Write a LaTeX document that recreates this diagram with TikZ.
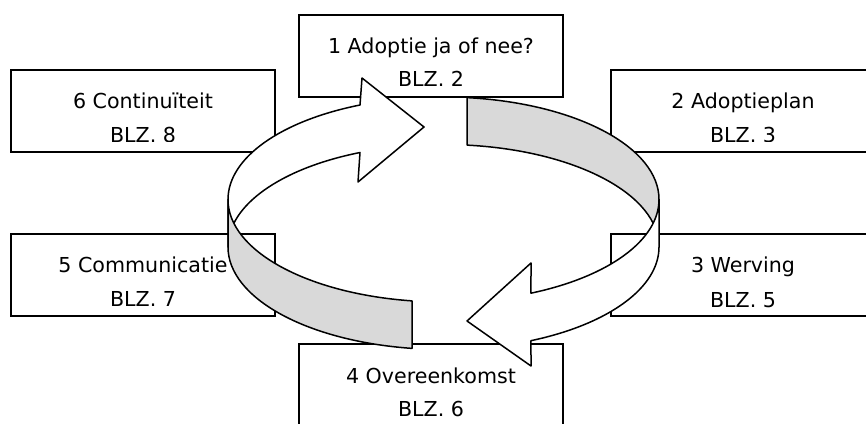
\documentclass[tikz,border=0pt]{standalone}
\usepackage{fontspec}
\setmainfont{DejaVu Sans}
\usetikzlibrary{calc}
\tikzset{
  boxnode/.style={draw=black, line width=1.6pt, fill=white, minimum width=264pt, minimum height=82pt, inner sep=0pt, outer sep=0pt, anchor=north west},
  lbl/.style={anchor=base, inner sep=0pt, font=\fontsize{20.6pt}{25pt}\selectfont},
  ringline/.style={draw=black, line width=1.5pt, line join=round},
  ringback/.style={ringline, fill=black!15},
  ringfront/.style={ringline, fill=white},
  ell/.style={x radius=215.5pt, y radius=102.5pt}
}
\begin{document}
\begin{tikzpicture}[x=1pt,y=1pt]
\useasboundingbox (0,0) rectangle (866,423);
% boxes
\node[boxnode] (b1) at (299,408) {};
\node[boxnode] (b6) at (11,353) {};
\node[boxnode] (b2) at (611,353) {};
\node[boxnode] (b5) at (11,189) {};
\node[boxnode] (b3) at (611,189) {};
\node[boxnode] (b4) at (299,79) {};
% labels
\node[lbl] (t1a) at (431,369) {1 Adoptie ja of nee?};
\node[lbl] (t1b) at (431,336) {BLZ. 2};
\node[lbl] (t6a) at (143,314) {6 Continuïteit};
\node[lbl] (t2a) at (743,314) {2 Adoptieplan};
\begin{scope}
  \clip (0,281.3) rectangle (866,423);
  \node[lbl] (t6b) at (143,280.3) {BLZ. 8};
  \node[lbl] (t2b) at (743,280.3) {BLZ. 3};
\end{scope}
\node[lbl] (t5a) at (143,150) {5 Communicatie};
\node[lbl] (t5b) at (143,117) {BLZ. 7};
\node[lbl] (t3a) at (743,150) {3 Werving};
\node[lbl] (t3b) at (743,116) {BLZ. 5};
\node[lbl] (t4a) at (431,40) {4 Overeenkomst};
\node[lbl] (t4b) at (431,7) {BLZ. 6};
% ring centres
\coordinate (c1) at (443.5,223.5);
\coordinate (c2) at (443.5,176);
% arrowhead points
\coordinate (h1t) at (362,345);
\coordinate (h1p) at (424,296);
\coordinate (h1b) at (358,241);
\coordinate (h2t) at (531,160);
\coordinate (h2p) at (467,102);
\coordinate (h2b) at (531,57);
% back grey band (top right)
\path[ringback] ($(c1)+(83.7:215.5pt and 102.5pt)$) arc[start angle=83.7, end angle=0, ell]
  -- ($(c2)+(0:215.5pt and 102.5pt)$) arc[start angle=0, end angle=83.7, ell] -- cycle;
% back white arrow (top left)
\path[ringfront] ($(c1)+(112.8:215.5pt and 102.5pt)$) arc[start angle=112.8, end angle=180, ell]
  -- ($(c2)+(180:215.5pt and 102.5pt)$) arc[start angle=180, end angle=112.8, ell]
  -- (h1b) -- (h1p) -- (h1t) -- cycle;
% front grey band (bottom left)
\path[ringback] ($(c1)+(180:215.5pt and 102.5pt)$) arc[start angle=180, end angle=261.6, ell]
  -- ($(c2)+(261.6:215.5pt and 102.5pt)$) arc[start angle=261.6, end angle=180, ell] -- cycle;
% front white arrow (bottom right)
\path[ringfront] ($(c1)+(0:215.5pt and 102.5pt)$) arc[start angle=0, end angle=-66.05, ell]
  -- (h2t) -- (h2p) -- (h2b)
  -- ($(c2)+(-66.05:215.5pt and 102.5pt)$) arc[start angle=-66.05, end angle=0, ell] -- cycle;
\end{tikzpicture}
\end{document}
